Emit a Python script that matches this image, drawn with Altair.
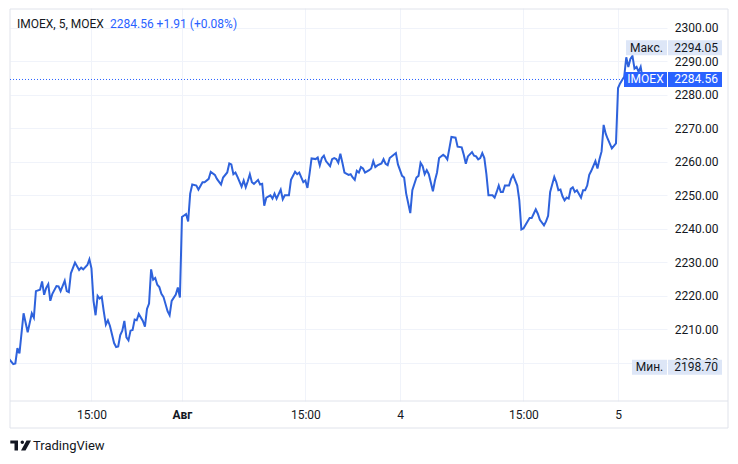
import altair as alt
import pandas as pd

# ---- data (5-minute bar index, close) ----
bar_index = [
    -84, -82, -81, -80, -79, -77, -75, -73, -72, -71, -69, -68, -67, -66, -65, -64, -63, -61, -60, -59,
    -57, -56, -55, -54, -52, -50, -49, -48, -46, -45, -44, -43, -42, -41, -40, -39, -38, -37, -36, -35,
    -33, -32, -31, -30, -29, -28, -27, -26, -25, -24, -23, -22, -21, -19, -18, -17, -16, -15, -14, -13,
    -12, -11, -10, -9, -7, -6, -5, -3, -2, -1,
    0, 2, 3, 4, 5, 7, 8, 10, 11, 13, 14, 16, 17, 19, 20, 22, 23, 24, 25, 26, 27, 29, 30, 31, 32, 33, 34,
    35, 37, 38, 39, 40, 41, 43, 44, 45, 46, 48, 49, 50, 52, 53, 55, 56, 57, 59, 60, 61, 62, 63, 65, 66,
    67, 68, 69, 70, 72, 73, 74, 75, 76, 77, 78, 79, 81, 82, 83, 84, 85, 86, 87, 88, 89, 91, 92, 93, 94,
    95, 97, 98, 99, 100, 101, 104, 105,
    107, 108, 109, 111, 112, 114, 115, 116, 117, 118, 119, 120, 122, 123, 124, 125, 127, 128, 129, 130,
    131, 133, 134, 136, 137, 138, 139, 141, 142, 143, 144, 145, 146, 147, 148, 149, 151, 152, 153, 154,
    155, 156, 157, 158, 159, 160, 161, 163, 164, 165, 166, 168, 169, 170, 171, 172, 173, 174, 176, 177,
    178, 179, 181, 182, 183, 184, 185, 186, 187, 188, 189, 190, 191, 192, 194, 195, 196, 197, 198, 199,
    201, 202, 203, 204, 205, 206, 207, 209, 211,
    212, 213, 214, 215, 216, 217, 218, 219, 220, 221, 222, 223, 224,
]
close = [
    2201.1, 2199.6, 2199.8, 2204.4, 2202.8, 2214.8, 2209.1, 2214.8, 2213.5, 2221.4, 2221.8, 2224.3, 2220.3, 2222.4, 2223.5, 2218.5, 2220.6, 2222.9, 2222.8, 2221.4,
    2224.5, 2221.4, 2221.1, 2226.7, 2229.9, 2227.7, 2228.4, 2227.9, 2229.2, 2230.9, 2228.2, 2218.5, 2214.2, 2220.0, 2219.2, 2219.7, 2215.3, 2211.4, 2212.7, 2211.0,
    2205.9, 2204.7, 2204.9, 2208.3, 2209.6, 2212.5, 2207.6, 2206.7, 2209.6, 2209.8, 2212.9, 2212.7, 2214.6, 2212.5, 2210.8, 2216.1, 2217.7, 2227.9, 2224.8, 2225.3,
    2223.3, 2222.6, 2220.6, 2219.7, 2215.4, 2214.2, 2218.5, 2220.4, 2222.5, 2219.5,
    2243.5, 2244.4, 2242.2, 2250.5, 2253.2, 2252.9, 2251.7, 2253.9, 2253.9, 2254.9, 2257.0, 2256.1, 2254.9, 2253.2, 2255.3, 2256.8, 2259.5, 2259.2, 2256.3, 2256.8, 2255.5, 2252.6, 2254.4, 2252.4, 2254.2, 2256.3, 2253.9,
    2253.4, 2254.6, 2253.2, 2253.4, 2246.9, 2249.3, 2250.0, 2249.0, 2250.5, 2249.0, 2251.7, 2248.8, 2250.0, 2250.0, 2254.6, 2257.0, 2256.3, 2256.8, 2253.9, 2254.4, 2252.2, 2256.3, 2261.0, 2260.8, 2261.3,
    2258.9, 2261.1, 2261.8, 2260.2, 2258.7, 2260.8, 2261.1, 2260.8, 2259.7, 2262.4, 2259.7, 2256.8, 2256.1, 2256.3, 2255.3, 2254.6, 2257.3, 2256.8, 2258.4, 2258.0, 2256.8, 2257.5, 2258.0, 2260.2, 2258.4,
    2258.9, 2259.5, 2260.8, 2259.4, 2259.0, 2261.1, 2262.6, 2259.2,
    2255.8, 2255.3, 2250.5, 2244.7, 2251.5, 2255.3, 2255.8, 2259.7, 2258.7, 2256.3, 2257.5, 2256.3, 2251.2, 2254.4, 2256.8, 2261.1, 2262.1, 2261.6, 2260.7, 2264.0,
    2267.4, 2267.2, 2264.5, 2264.3, 2262.1, 2259.4, 2261.6, 2262.9, 2261.8, 2261.6, 2260.7, 2261.1, 2262.6, 2261.1, 2256.3, 2250.0, 2250.0, 2249.3, 2251.0, 2252.9,
    2251.0, 2251.0, 2252.9, 2252.9, 2252.9, 2254.9, 2256.0, 2252.9, 2248.5, 2239.8, 2240.1, 2242.2, 2243.2, 2243.2, 2244.5, 2245.8, 2244.5, 2242.7, 2241.0, 2242.2,
    2243.9, 2251.0, 2255.5, 2253.9, 2251.5, 2251.7, 2249.7, 2248.5, 2249.3, 2249.0, 2251.9, 2252.4, 2251.0, 2251.5, 2249.3, 2251.5, 2251.5, 2252.9, 2256.1, 2257.3,
    2260.2, 2258.0, 2260.8, 2263.1, 2271.0, 2268.4, 2266.8, 2264.0, 2265.5,
    2282.0, 2283.4, 2284.4, 2285.4, 2291.2, 2288.3, 2290.7, 2291.6, 2287.8, 2288.3, 2286.8, 2288.3, 2284.56,
]

time_ticks = [-44, 0, 60, 106, 166, 212]
time_labels = ["15:00", "Авг", "15:00", "4", "15:00", "5"]
price_ticks = [2200, 2210, 2220, 2230, 2240, 2250, 2260, 2270, 2280, 2290, 2300]

symbol_text = "IMOEX, 5, MOEX"
quote_text = "2284.56  +1.91 (+0.08%)"
last_price = 2284.56
max_price = 2294.05
min_price = 2198.70
brand_text = "TradingView"

# ---- style ----
W, H = 657, 393
FONT = "Roboto"
BLUE = "#2962ff"
LINE = "#2e62dc"
TEXT = "#131722"
GRID = "#f0f3fa"
BORDER = "#e0e3eb"
TAG = "#dde6f7"

xs = alt.Scale(domain=[-83.6, 235.8], nice=False, zero=False)
ys = alt.Scale(domain=[2190.1, 2304.4], nice=False, zero=False)

label_expr = " : ".join(
    f"datum.value == {p} ? '{t}'" for p, t in zip(time_ticks, time_labels)
) + " : ''"

x_axis = alt.Axis(
    values=time_ticks, labelExpr=label_expr, grid=True, gridColor=GRID, gridWidth=1,
    domain=False, ticks=False, tickSize=0, labelPadding=13, labelBaseline="middle",
    labelAlign="center", labelFont=FONT, labelFontSize=12, labelColor=TEXT,
    labelFontWeight={"condition": {"test": "datum.value == 0", "value": "bold"}, "value": "normal"},
    title=None, labelFlush=False, labelOverlap=False,
)
y_axis = alt.Axis(
    orient="right", values=price_ticks, format=".2f", grid=True, gridColor=GRID, gridWidth=1,
    domain=False, ticks=False, tickSize=0, labelPadding=51, labelAlign="right",
    labelBaseline="middle", labelFont=FONT, labelFontSize=12, labelColor=TEXT,
    title=None, labelFlush=False, labelOverlap=False,
)


def y_enc():
    return alt.Y("v:Q", scale=ys, axis=y_axis)


series = pd.DataFrame({"t": bar_index, "v": close})
one = pd.DataFrame({"a": [0]})

frame = alt.Chart(one).mark_rect(fillOpacity=0, stroke=BORDER, strokeWidth=1).encode(
    x=alt.value(0), x2=alt.value(718), y=alt.value(1), y2=alt.value(420)
)
sep = alt.Chart(one).mark_rule(color=BORDER, strokeWidth=1).encode(
    x=alt.value(0), x2=alt.value(718), y=alt.value(393)
)

line = alt.Chart(series).mark_line(color=LINE, strokeWidth=2, clip=True).encode(
    x=alt.X("t:Q", scale=xs, axis=x_axis),
    y=y_enc(),
)

last_df = pd.DataFrame({"v": [last_price]})
dotted = alt.Chart(last_df).mark_rule(color=BLUE, strokeWidth=1, strokeDash=[1, 2]).encode(
    y=y_enc(), x=alt.value(0), x2=alt.value(614)
)


def price_tag(price, name, box_left, fill, color):
    d = pd.DataFrame({"v": [price], "name": [name], "txt": [f"{price:.2f}"]})
    base = alt.Chart(d)
    name_box = base.mark_bar(orient="horizontal", height=15, color=fill).encode(
        y=y_enc(), x=alt.value(box_left), x2=alt.value(W)
    )
    val_box = base.mark_bar(orient="horizontal", height=15, color=fill).encode(
        y=y_enc(), x=alt.value(W + 1), x2=alt.value(W + 55)
    )
    name_txt = base.mark_text(align="center", baseline="middle", font=FONT, fontSize=12, color=color).encode(
        y=y_enc(), x=alt.value((box_left + W) / 2), text="name:N"
    )
    val_txt = base.mark_text(align="right", baseline="middle", font=FONT, fontSize=12, color=color).encode(
        y=y_enc(), x=alt.value(W + 51), text="txt:N"
    )
    return [name_box, val_box, name_txt, val_txt]


tags = (
    price_tag(max_price, "Макс.", 616, TAG, TEXT)
    + price_tag(last_price, "IMOEX", 614, BLUE, "white")
    + price_tag(min_price, "Мин.", 622, TAG, TEXT)
)

title1 = alt.Chart(one).mark_text(align="left", baseline="middle", font=FONT, fontSize=12, color=TEXT).encode(
    x=alt.value(7), y=alt.value(16), text=alt.value(symbol_text)
)
title2 = alt.Chart(one).mark_text(align="left", baseline="middle", font=FONT, fontSize=12, color=BLUE).encode(
    x=alt.value(100), y=alt.value(16), text=alt.value(quote_text)
)

logo_path = (
    "M-10.7,-5H-3V5H-6.5V-2H-10.7Z "
    "M-0.4,-3.3A1.7,1.7 0 1,0 3,-3.3A1.7,1.7 0 1,0 -0.4,-3.3Z "
    "M5.5,-5H10L4.5,5H0Z"
)
logo = alt.Chart(one).mark_point(shape=logo_path, size=4, filled=True, opacity=1, color=TEXT, strokeWidth=0).encode(
    x=alt.value(11), y=alt.value(437.5)
)
brand = alt.Chart(one).mark_text(align="left", baseline="middle", font=FONT, fontSize=13, color=TEXT).encode(
    x=alt.value(23), y=alt.value(438), text=alt.value(brand_text)
)

chart = alt.layer(frame, sep, line, dotted, *tags, title1, title2, logo, brand).properties(
    width=W, height=H,
    autosize=alt.AutoSizeParams(type="none"),
    padding={"left": 2, "top": 0, "right": 63, "bottom": 56},
    background="white",
).configure_view(stroke=None)

chart.save("out.html", embed_options={"renderer": "svg", "actions": False})
